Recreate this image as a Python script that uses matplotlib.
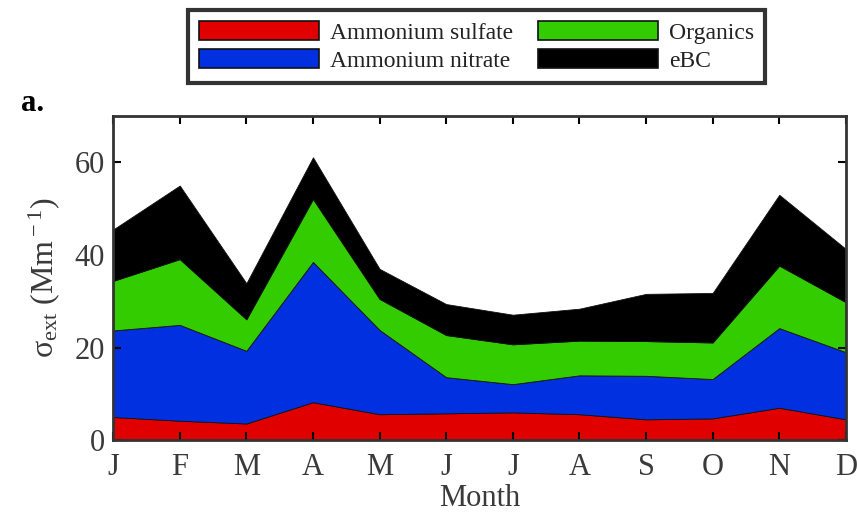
import matplotlib.pyplot as plt
import numpy as np

plt.rcParams["font.family"] = ["Liberation Serif", "DejaVu Serif"]
plt.rcParams["mathtext.fontset"] = "custom"
plt.rcParams["mathtext.rm"] = "Liberation Serif"
plt.rcParams["mathtext.it"] = "Liberation Serif"

months = ["J", "F", "M", "A", "M", "J", "J", "A", "S", "O", "N", "D"]
sulfate = [5.0, 4.2, 3.6, 8.2, 5.6, 5.8, 6.0, 5.6, 4.5, 4.7, 7.0, 4.5]
nitrate = [18.7, 20.7, 15.7, 30.3, 18.2, 7.8, 6.1, 8.4, 9.4, 8.5, 17.2, 14.5]
organics = [10.7, 14.2, 6.8, 13.6, 6.7, 9.1, 8.6, 7.5, 7.5, 7.9, 13.5, 10.8]
ebc = [11.1, 15.9, 7.8, 9.0, 6.5, 6.7, 6.4, 6.9, 10.2, 10.7, 15.3, 11.5]

labels = ["Ammonium sulfate", "Ammonium nitrate", "Organics", "eBC"]
colors = ["#e00000", "#0030e0", "#33cc00", "#000000"]

fig = plt.figure(figsize=(8.57, 5.16), dpi=100)
ax = fig.add_axes([0.132, 0.147, 0.855, 0.628])

x = np.arange(len(months))
polys = ax.stackplot(x, sulfate, nitrate, organics, ebc, colors=colors,
                     edgecolor="#111111", linewidth=0.6, labels=labels)

ax.set_xlim(0, len(months) - 1)
ax.set_ylim(0, 70)
ax.set_xticks(x)
ax.set_xticklabels(months)
ax.set_yticks([0, 20, 40, 60])
ax.tick_params(direction="in", length=6, width=1.5, labelsize=22, top=True, right=True)
ax.tick_params(axis="x", pad=9, labelcolor="#3a3a3a")
ax.tick_params(axis="y", pad=6, labelcolor="#3a3a3a")
for spine in ax.spines.values():
    spine.set_linewidth(2)
    spine.set_color("#333333")

ax.set_xlabel("Month", fontsize=22, color="#3a3a3a", labelpad=2)
ax.set_ylabel(r"$\sigma_{\rm ext}$ (Mm$^{\rm -1}$)", fontsize=23, color="#3a3a3a", labelpad=9)

fig.text(0.024, 0.785, "a.", fontsize=22, fontweight="bold")

leg = fig.legend(polys, labels, ncol=2, loc="upper center",
                 bbox_to_anchor=(0.556, 0.98), borderaxespad=0, fontsize=17,
                 handlelength=5.1, handleheight=0.85, columnspacing=1.05,
                 handletextpad=0.45, labelspacing=0.25, borderpad=0.45,
                 fancybox=False, framealpha=1)
leg.get_frame().set_edgecolor("#333333")
leg.get_frame().set_linewidth(3)
for h in leg.legend_handles:
    h.set_edgecolor("#111111")
    h.set_linewidth(1.2)
for t in leg.get_texts():
    t.set_color("#222222")

fig.savefig("out.png", dpi=100)
